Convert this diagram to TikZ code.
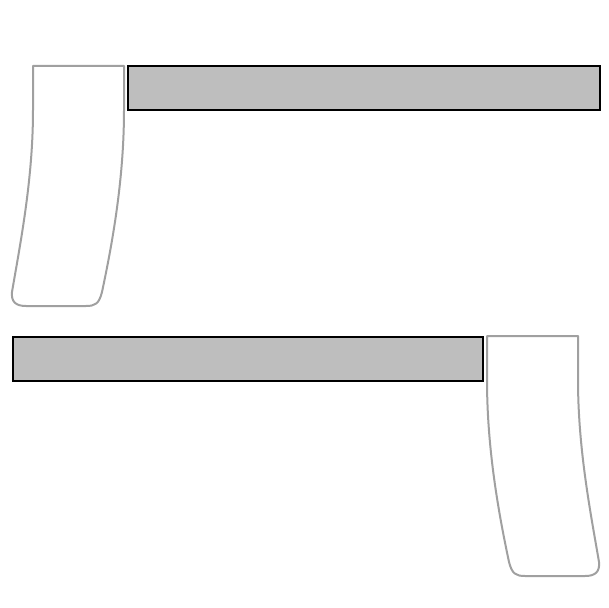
\documentclass[tikz,border=0pt]{standalone}
\usepackage{tikz, xcolor}
\definecolor{barfill}{HTML}{BEBEBE}
\definecolor{flagline}{HTML}{A0A0A0}

\begin{document}
\begin{tikzpicture}[x=0.5pt, y=-0.5pt,
    bar/.style={draw=black, line width=1.2pt, fill=barfill},
    flag/.style={draw=flagline, line width=1pt, fill=white, line join=round}]
    \useasboundingbox (0,0) rectangle (608,608);
    \draw [flag] (33,66) -- (124,66) -- (124,110) .. controls (124,180) and (112,245) .. (102,292)
        .. controls (99,304) and (95,306) .. (86,306) -- (26,306)
        .. controls (16,306) and (11,302) .. (12,292)
        .. controls (20,245) and (33,180) .. (33,110) -- cycle;
    \draw [bar] (128,66) rectangle (600,110);
    \draw [bar] (13,337) rectangle (483,381);
    \draw [flag] (578,336) -- (487,336) -- (487,380) .. controls (487,450) and (499,515) .. (509,562)
        .. controls (512,574) and (516,576) .. (525,576) -- (585,576)
        .. controls (595,576) and (600,572) .. (599,562)
        .. controls (591,515) and (578,450) .. (578,380) -- cycle;
\end{tikzpicture}
\end{document}
